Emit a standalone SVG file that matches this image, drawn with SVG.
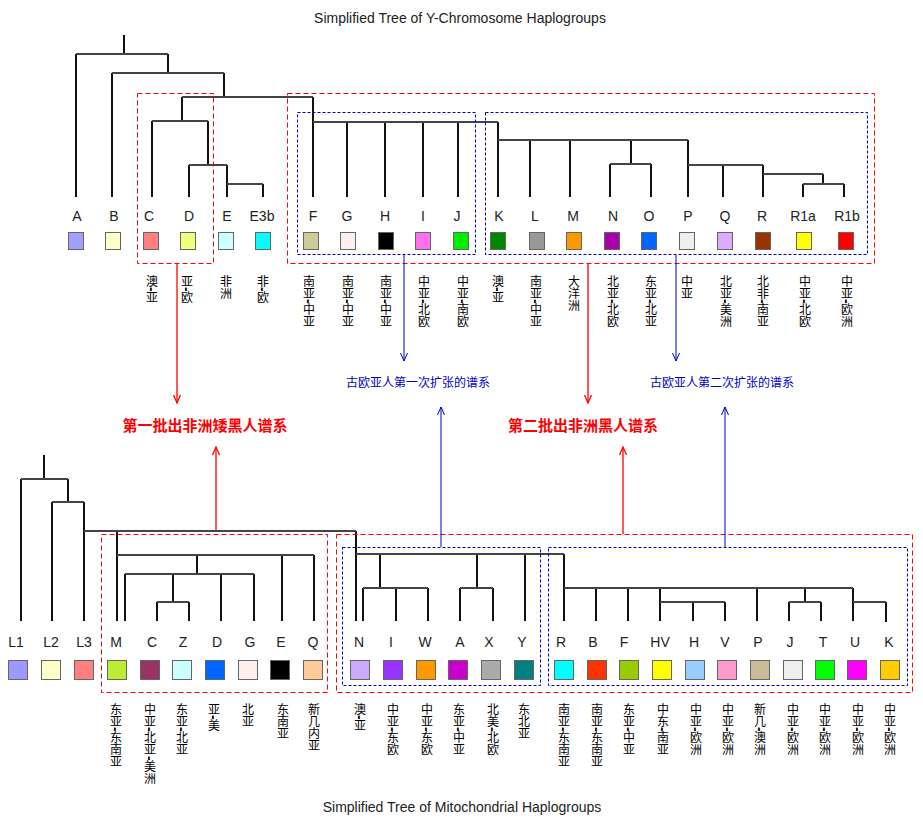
<svg xmlns="http://www.w3.org/2000/svg" width="923" height="826" viewBox="0 0 923 826">
<defs>
<style>
.bg{fill:#fff}
.title{font-family:"Liberation Sans",Arial,sans-serif;font-size:14px;fill:#222;text-anchor:middle}
.lbl{font-family:"Liberation Sans",Arial,sans-serif;font-size:14px;fill:#222;text-anchor:middle}
.bx{stroke:#666;stroke-width:1}
.vt{font-family:"Noto Sans CJK SC","Noto Sans CJK JP",sans-serif;font-size:12px;fill:#000;writing-mode:vertical-rl;text-orientation:mixed;text-anchor:start}
.dh{font-family:"Liberation Sans",Arial,sans-serif;font-size:14px;font-weight:bold}
.tv{fill:none;stroke:#111;stroke-width:2}
.th{fill:none;stroke:#444;stroke-width:2}
.rbox{fill:none;stroke:#ff0000;stroke-width:1;stroke-dasharray:5,3}
.bbox{fill:none;stroke:#0000cc;stroke-width:1;stroke-dasharray:3,2}
.ra{fill:none;stroke:#ff0000;stroke-width:1.3;marker-end:url(#ah-r)}
.ba{fill:none;stroke:#0000cc;stroke-width:1;marker-end:url(#ah-b)}
.rt{font-family:"Noto Sans CJK SC",sans-serif;font-size:15px;font-weight:bold;fill:#ff0000;text-anchor:middle}
.bt{font-family:"Noto Sans CJK SC",sans-serif;font-size:12px;fill:#0000cc;text-anchor:middle}
</style>
<marker id="ah-r" markerUnits="userSpaceOnUse" markerWidth="12" markerHeight="12" viewBox="-10 -6 12 12" refX="0" refY="0" orient="auto" overflow="visible">
<path d="M-8,-3.5 L0,0 L-8,3.5" fill="none" stroke="#ff0000" stroke-width="1.3"/>
</marker>
<marker id="ah-b" markerUnits="userSpaceOnUse" markerWidth="12" markerHeight="12" viewBox="-10 -6 12 12" refX="0" refY="0" orient="auto" overflow="visible">
<path d="M-8,-3.5 L0,0 L-8,3.5" fill="none" stroke="#0000cc" stroke-width="1"/>
</marker>
</defs>
<rect class="bg" x="0" y="0" width="923" height="826"/>
<text class="title" x="460" y="23">Simplified Tree of Y-Chromosome Haplogroups</text>
<text class="title" x="462" y="812">Simplified Tree of Mitochondrial Haplogroups</text>

<g id="connectors">
<path class="tv" d="M124,35V54 M76,54V197 M168,54V73 M112,73V197 M224,73V97 M182,97V121 M152,121V197 M208,121V165 M189,165V197 M227,165V197 M263,184V197 M313,97V197 M347,122V197 M385,122V197 M423,122V197 M458,122V197 M498,122V197 M530,140V197 M570,140V197 M631,140V164 M610,164V197 M651,164V197 M688,140V197 M723,165V197 M763,165V197 M823,174V184 M803,184V197 M844,184V197"/>
<path class="th" d="M76,54H168 M112,73H224 M182,97H313 M152,121H208 M189,165H227 M227,184H263 M313,122H498 M498,140H688 M610,164H651 M688,165H763 M763,174H823 M803,184H844"/>
<path class="tv" d="M44,455V479 M21,479V621 M68,479V502 M52,502V621 M84,502V621 M117,531V621 M197,555V574 M125,574V621 M173,574V602 M157,602V621 M189,602V621 M221,574V621 M254,574V621 M282,555V621 M314,555V621 M356,531V621 M380,554V588 M363,588V621 M396,588V621 M428,588V621 M477,554V588 M460,588V621 M493,588V621 M525,554V621 M564,554V621 M596,588V621 M628,588V621 M660,588V621 M693,602V621 M725,602V621 M757,588V621 M805,588V602 M789,602V621 M821,602V621 M853,588V621 M886,602V622"/>
<path class="th" d="M21,479H68 M52,502H84 M84,531H356 M117,555H314 M125,574H254 M157,602H189 M356,554H564 M363,588H428 M460,588H493 M564,588H853 M660,602H725 M789,602H821 M853,602H886"/>
</g>

<g id="groups">
<rect class="rbox" x="137.5" y="93.5" width="76" height="170" stroke="#ff0000"/>
<rect class="rbox" x="287.5" y="93.5" width="587" height="170" stroke="#ff0000"/>
<rect class="bbox" x="297.5" y="112.5" width="178" height="142" stroke="#0000cc"/>
<rect class="bbox" x="485.5" y="112.5" width="382" height="142" stroke="#0000cc"/>
<rect class="rbox" x="101.5" y="534.5" width="226" height="158" stroke="#ff0000"/>
<rect class="rbox" x="336.5" y="534.5" width="576" height="158" stroke="#ff0000"/>
<rect class="bbox" x="342.5" y="547.5" width="198" height="138" stroke="#0000cc"/>
<rect class="bbox" x="548.5" y="547.5" width="359" height="138" stroke="#0000cc"/>
</g>

<g id="arrows">
<path class="ra" d="M177,264V403"/>
<path class="ra" d="M588,264V403"/>
<path class="ba" d="M404,255V361"/>
<path class="ba" d="M676,255V361"/>
<path class="ra" d="M216,531V447"/>
<path class="ra" d="M623,534V447"/>
<path class="ba" d="M441,547V407"/>
<path class="ba" d="M725,547V407"/>
</g>

<g id="callouts">
<text class="rt" x="205" y="431">第一批出非洲矮黑人谱系</text>
<text class="rt" x="583" y="431">第二批出非洲黑人谱系</text>
<text class="bt" x="418" y="387">古欧亚人第一次扩张的谱系</text>
<text class="bt" x="722" y="387">古欧亚人第二次扩张的谱系</text>
</g>

<!-- Y chromosome nodes -->
<g id="y-A"><text class="lbl" x="77" y="221">A</text><rect class="bx" x="68.5" y="232.5" width="15" height="17" fill="#a0a0ff"/></g>
<g id="y-B"><text class="lbl" x="114" y="221">B</text><rect class="bx" x="105.5" y="232.5" width="15" height="17" fill="#ffffc8"/></g>
<g id="y-C"><text class="lbl" x="149" y="221">C</text><rect class="bx" x="143.5" y="232.5" width="15" height="17" fill="#ff8080"/><text class="vt" x="152" y="275">澳<tspan class="dh">-</tspan>亚</text></g>
<g id="y-D"><text class="lbl" x="189" y="221">D</text><rect class="bx" x="180.5" y="232.5" width="15" height="17" fill="#f0ff80"/><text class="vt" x="187" y="275">亚<tspan class="dh">-</tspan>欧</text></g>
<g id="y-E"><text class="lbl" x="227" y="221">E</text><rect class="bx" x="218.5" y="232.5" width="15" height="17" fill="#ccffff"/><text class="vt" x="226" y="275">非洲</text></g>
<g id="y-E3b"><text class="lbl" x="262" y="221">E3b</text><rect class="bx" x="255.5" y="232.5" width="15" height="17" fill="#00ffff"/><text class="vt" x="263" y="275">非<tspan class="dh">-</tspan>欧</text></g>
<g id="y-F"><text class="lbl" x="313" y="221">F</text><rect class="bx" x="303.5" y="232.5" width="15" height="17" fill="#cccc99"/><text class="vt" x="309" y="275">南亚<tspan class="dh">-</tspan>中亚</text></g>
<g id="y-G"><text class="lbl" x="347" y="221">G</text><rect class="bx" x="340.5" y="232.5" width="15" height="17" fill="#ffeeee"/><text class="vt" x="348" y="275">南亚<tspan class="dh">-</tspan>中亚</text></g>
<g id="y-H"><text class="lbl" x="385" y="221">H</text><rect class="bx" x="378.5" y="232.5" width="15" height="17" fill="#000000"/><text class="vt" x="386" y="275">南亚<tspan class="dh">-</tspan>中亚</text></g>
<g id="y-I"><text class="lbl" x="423" y="221">I</text><rect class="bx" x="415.5" y="232.5" width="15" height="17" fill="#ff70ee"/><text class="vt" x="424" y="275">中亚<tspan class="dh">-</tspan>北欧</text></g>
<g id="y-J"><text class="lbl" x="457" y="221">J</text><rect class="bx" x="453.5" y="232.5" width="15" height="17" fill="#00ee00"/><text class="vt" x="463" y="275">中亚<tspan class="dh">-</tspan>南欧</text></g>
<g id="y-K"><text class="lbl" x="499" y="221">K</text><rect class="bx" x="490.5" y="232.5" width="15" height="17" fill="#008800"/><text class="vt" x="498" y="275">澳<tspan class="dh">-</tspan>亚</text></g>
<g id="y-L"><text class="lbl" x="535" y="221">L</text><rect class="bx" x="529.5" y="232.5" width="15" height="17" fill="#999999"/><text class="vt" x="536" y="275">南亚<tspan class="dh">-</tspan>中亚</text></g>
<g id="y-M"><text class="lbl" x="573" y="221">M</text><rect class="bx" x="566.5" y="232.5" width="15" height="17" fill="#ff9900"/><text class="vt" x="574" y="275">大洋洲</text></g>
<g id="y-N"><text class="lbl" x="613" y="221">N</text><rect class="bx" x="604.5" y="232.5" width="15" height="17" fill="#aa00aa"/><text class="vt" x="613" y="275">北亚<tspan class="dh">-</tspan>北欧</text></g>
<g id="y-O"><text class="lbl" x="649" y="221">O</text><rect class="bx" x="641.5" y="232.5" width="15" height="17" fill="#0066ff"/><text class="vt" x="651" y="275">东亚<tspan class="dh">-</tspan>北亚</text></g>
<g id="y-P"><text class="lbl" x="688" y="221">P</text><rect class="bx" x="679.5" y="232.5" width="15" height="17" fill="#eeeeee"/><text class="vt" x="687" y="275">中亚</text></g>
<g id="y-Q"><text class="lbl" x="725" y="221">Q</text><rect class="bx" x="717.5" y="232.5" width="15" height="17" fill="#ddaaff"/><text class="vt" x="726" y="275">北亚<tspan class="dh">-</tspan>美洲</text></g>
<g id="y-R"><text class="lbl" x="762" y="221">R</text><rect class="bx" x="755.5" y="232.5" width="15" height="17" fill="#993300"/><text class="vt" x="763" y="275">北非<tspan class="dh">-</tspan>南亚</text></g>
<g id="y-R1a"><text class="lbl" x="803" y="221">R1a</text><rect class="bx" x="796.5" y="232.5" width="15" height="17" fill="#ffff00"/><text class="vt" x="805" y="275">中亚<tspan class="dh">-</tspan>北欧</text></g>
<g id="y-R1b"><text class="lbl" x="847" y="221">R1b</text><rect class="bx" x="838.5" y="232.5" width="15" height="17" fill="#ff0000"/><text class="vt" x="847" y="275">中亚<tspan class="dh">-</tspan>欧洲</text></g>

<!-- mtDNA nodes -->
<g id="mt-L1"><text class="lbl" x="16" y="647">L1</text><rect class="bx" x="8.5" y="660.5" width="19" height="19" fill="#9999ff"/></g>
<g id="mt-L2"><text class="lbl" x="51" y="647">L2</text><rect class="bx" x="41.5" y="660.5" width="19" height="19" fill="#ffffcc"/></g>
<g id="mt-L3"><text class="lbl" x="84" y="647">L3</text><rect class="bx" x="74.5" y="660.5" width="19" height="19" fill="#ff7f7f"/></g>
<g id="mt-M"><text class="lbl" x="116" y="647">M</text><rect class="bx" x="107.5" y="660.5" width="19" height="19" fill="#bbee33"/><text class="vt" x="116" y="703">东亚<tspan class="dh">-</tspan>东南亚</text></g>
<g id="mt-C"><text class="lbl" x="152" y="647">C</text><rect class="bx" x="140.5" y="660.5" width="19" height="19" fill="#993366"/><text class="vt" x="150" y="703">中亚<tspan class="dh">-</tspan>北亚<tspan class="dh">-</tspan>美洲</text></g>
<g id="mt-Z"><text class="lbl" x="183" y="647">Z</text><rect class="bx" x="172.5" y="660.5" width="19" height="19" fill="#ccffff"/><text class="vt" x="182" y="703">东亚<tspan class="dh">-</tspan>北亚</text></g>
<g id="mt-D"><text class="lbl" x="217" y="647">D</text><rect class="bx" x="205.5" y="660.5" width="19" height="19" fill="#0066ff"/><text class="vt" x="214" y="703">亚<tspan class="dh">-</tspan>美</text></g>
<g id="mt-G"><text class="lbl" x="250" y="647">G</text><rect class="bx" x="238.5" y="660.5" width="19" height="19" fill="#ffeeee"/><text class="vt" x="248" y="703">北亚</text></g>
<g id="mt-E"><text class="lbl" x="281" y="647">E</text><rect class="bx" x="270.5" y="660.5" width="19" height="19" fill="#000000"/><text class="vt" x="283" y="703">东南亚</text></g>
<g id="mt-Q"><text class="lbl" x="313" y="647">Q</text><rect class="bx" x="303.5" y="660.5" width="19" height="19" fill="#ffcc99"/><text class="vt" x="314" y="703">新几内亚</text></g>
<g id="mt-N"><text class="lbl" x="359" y="647">N</text><rect class="bx" x="350.5" y="660.5" width="19" height="19" fill="#ccaaff"/><text class="vt" x="360" y="703">澳<tspan class="dh">-</tspan>亚</text></g>
<g id="mt-I"><text class="lbl" x="391" y="647">I</text><rect class="bx" x="383.5" y="660.5" width="19" height="19" fill="#9933ff"/><text class="vt" x="393" y="703">中亚<tspan class="dh">-</tspan>东欧</text></g>
<g id="mt-W"><text class="lbl" x="425" y="647">W</text><rect class="bx" x="416.5" y="660.5" width="19" height="19" fill="#ff9900"/><text class="vt" x="427" y="703">中亚<tspan class="dh">-</tspan>东欧</text></g>
<g id="mt-A"><text class="lbl" x="460" y="647">A</text><rect class="bx" x="448.5" y="660.5" width="19" height="19" fill="#cc00cc"/><text class="vt" x="459" y="703">东亚<tspan class="dh">-</tspan>中亚</text></g>
<g id="mt-X"><text class="lbl" x="489" y="647">X</text><rect class="bx" x="481.5" y="660.5" width="19" height="19" fill="#aaaaaa"/><text class="vt" x="493" y="703">北美<tspan class="dh">-</tspan>北欧</text></g>
<g id="mt-Y"><text class="lbl" x="522" y="647">Y</text><rect class="bx" x="514.5" y="660.5" width="19" height="19" fill="#008080"/><text class="vt" x="524" y="703">东北亚</text></g>
<g id="mt-R"><text class="lbl" x="561" y="647">R</text><rect class="bx" x="554.5" y="660.5" width="19" height="19" fill="#00ffff"/><text class="vt" x="564" y="703">南亚<tspan class="dh">-</tspan>东南亚</text></g>
<g id="mt-B"><text class="lbl" x="593" y="647">B</text><rect class="bx" x="587.5" y="660.5" width="19" height="19" fill="#ff3300"/><text class="vt" x="597" y="703">南亚<tspan class="dh">-</tspan>东南亚</text></g>
<g id="mt-F"><text class="lbl" x="624" y="647">F</text><rect class="bx" x="619.5" y="660.5" width="19" height="19" fill="#99cc00"/><text class="vt" x="629" y="703">东亚<tspan class="dh">-</tspan>中亚</text></g>
<g id="mt-HV"><text class="lbl" x="660" y="647">HV</text><rect class="bx" x="652.5" y="660.5" width="19" height="19" fill="#ffff00"/><text class="vt" x="663" y="703">中东<tspan class="dh">-</tspan>南亚</text></g>
<g id="mt-H"><text class="lbl" x="694" y="647">H</text><rect class="bx" x="685.5" y="660.5" width="19" height="19" fill="#99ccff"/><text class="vt" x="696" y="703">中亚<tspan class="dh">-</tspan>欧洲</text></g>
<g id="mt-V"><text class="lbl" x="725" y="647">V</text><rect class="bx" x="717.5" y="660.5" width="19" height="19" fill="#ff99cc"/><text class="vt" x="728" y="703">中亚<tspan class="dh">-</tspan>欧洲</text></g>
<g id="mt-P"><text class="lbl" x="758" y="647">P</text><rect class="bx" x="750.5" y="660.5" width="19" height="19" fill="#ccbb99"/><text class="vt" x="760" y="703">新几<tspan class="dh">-</tspan>澳洲</text></g>
<g id="mt-J"><text class="lbl" x="790" y="647">J</text><rect class="bx" x="783.5" y="660.5" width="19" height="19" fill="#eeeeee"/><text class="vt" x="793" y="703">中亚<tspan class="dh">-</tspan>欧洲</text></g>
<g id="mt-T"><text class="lbl" x="823" y="647">T</text><rect class="bx" x="815.5" y="660.5" width="19" height="19" fill="#00ff00"/><text class="vt" x="825" y="703">中亚<tspan class="dh">-</tspan>欧洲</text></g>
<g id="mt-U"><text class="lbl" x="855" y="647">U</text><rect class="bx" x="847.5" y="660.5" width="19" height="19" fill="#ff00ff"/><text class="vt" x="858" y="703">中亚<tspan class="dh">-</tspan>欧洲</text></g>
<g id="mt-K"><text class="lbl" x="889" y="647">K</text><rect class="bx" x="880.5" y="660.5" width="19" height="19" fill="#ffcc00"/><text class="vt" x="890" y="703">中亚<tspan class="dh">-</tspan>欧洲</text></g>
</svg>
